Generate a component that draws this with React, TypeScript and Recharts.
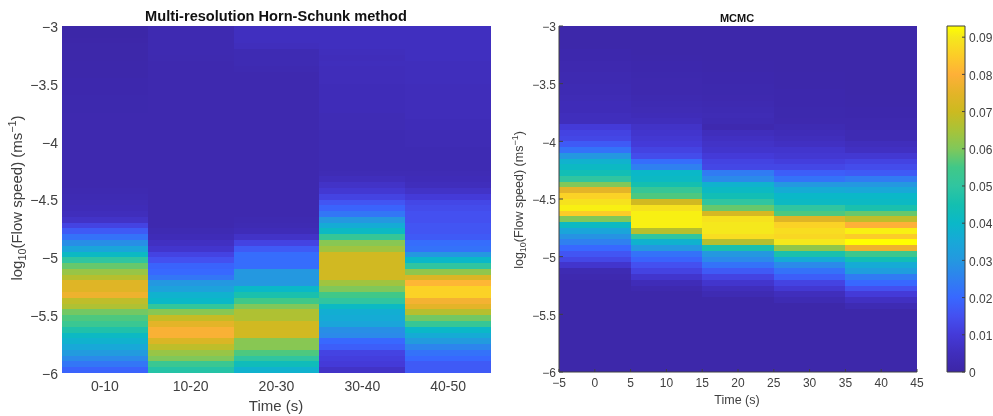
import React from 'react';
import { BarChart, Bar, Cell, XAxis, YAxis } from 'recharts';

// log10 speed bins: 60 bins of 0.05 from -6 up to -3, values listed bottom-up
const LOG_FLOOR = -6;
const BIN_SIZE = 0.05;
const logTicks = [0, 0.5, 1, 1.5, 2, 2.5, 3];

const hsLabels = ['0-10', '10-20', '20-30', '30-40', '40-50'];
const hs0 = [.019,.023,.027,.031,.035,.038,.041,.047,.053,.056,.059,.066,.068,.077,.074,.074,.067,.063,.058,.050,.041,.034,.028,.022,.017,.012,.007,.005,.004,.0035,.003,.0025,.002,.002,.002,.002,.002,.002,.002,.002,.002,.002,.002,.002,.002,.0018,.0018,.0018,.0015,.0015,.0015,.0012,.0012,.0012,.001,.001,.001,.0007,.0005,.0005];
const hs1 = [.048,.053,.060,.063,.068,.073,.079,.079,.075,.069,.061,.051,.040,.038,.033,.030,.023,.020,.019,.015,.012,.008,.006,.004,.003,.002,.002,.002,.002,.002,.002,.002,.002,.002,.002,.002,.002,.002,.002,.002,.002,.002,.002,.002,.002,.002,.002,.002,.002,.002,.002,.002,.002,.002,.0022,.0025,.0025,.0025,.0025,.0025];
const hs2 = [.038,.043,.050,.056,.061,.061,.071,.071,.071,.066,.066,.060,.055,.046,.040,.030,.030,.030,.021,.021,.021,.017,.012,.007,.004,.003,.0025,.002,.002,.002,.002,.002,.002,.002,.002,.002,.002,.002,.002,.002,.002,.002,.002,.002,.002,.002,.002,.002,.002,.002,.002,.002,.0025,.003,.003,.003,.005,.0055,.0055,.0055];
const hs3 = [.007,.010,.011,.012,.018,.020,.027,.028,.034,.036,.037,.041,.050,.055,.060,.064,.071,.071,.071,.071,.071,.064,.061,.052,.041,.036,.030,.023,.019,.016,.012,.009,.007,.005,.0035,.003,.003,.003,.003,.003,.003,.003,.0035,.0035,.0035,.004,.004,.004,.004,.004,.0045,.0045,.0045,.005,.0045,.005,.0055,.0055,.0055,.0055];
const hs4 = [.017,.017,.020,.022,.026,.031,.036,.040,.052,.059,.067,.075,.078,.086,.086,.081,.073,.062,.050,.040,.030,.022,.021,.017,.016,.016,.015,.015,.014,.013,.010,.007,.005,.004,.0035,.003,.003,.003,.003,.0035,.0035,.0035,.004,.004,.0045,.0045,.0045,.0045,.0045,.0045,.005,.005,.005,.005,.0055,.0055,.0055,.0055,.0055,.0055];
const hsColumns = [hs0, hs1, hs2, hs3, hs4];

const mcmcTimes = [0, 10, 20, 30, 40];
const mcmc0 = [.001,.001,.001,.001,.001,.001,.001,.001,.001,.001,.001,.001,.001,.001,.001,.001,.002,.003,.008,.013,.016,.020,.025,.029,.034,.041,.060,.085,.091,.089,.086,.075,.060,.050,.044,.041,.038,.030,.022,.017,.013,.012,.010,.005,.005,.004,.004,.0035,.003,.003,.0025,.0025,.002,.002,.0015,.0015,.001,.001,.001,.001];
const mcmc1 = [.001,.001,.001,.001,.001,.001,.001,.001,.001,.001,.001,.001,.001,.001,.002,.004,.008,.012,.015,.019,.022,.030,.038,.050,.067,.091,.091,.091,.089,.071,.056,.052,.045,.041,.040,.025,.021,.014,.012,.010,.009,.008,.007,.005,.004,.0035,.003,.0025,.002,.002,.002,.0018,.0015,.0015,.0012,.001,.001,.001,.001,.001];
const mcmc2 = [.001,.001,.001,.001,.001,.001,.001,.001,.001,.001,.001,.001,.001,.003,.005,.008,.012,.017,.022,.027,.030,.046,.067,.088,.090,.090,.089,.072,.058,.050,.044,.041,.038,.027,.024,.013,.012,.010,.008,.007,.006,.005,.002,.003,.0035,.003,.0025,.002,.0018,.0018,.0015,.0015,.0012,.0012,.001,.001,.001,.001,.001,.001];
const mcmc3 = [.001,.001,.001,.001,.001,.001,.001,.001,.001,.001,.001,.001,.003,.005,.009,.012,.018,.022,.027,.036,.046,.062,.090,.087,.088,.086,.074,.056,.050,.041,.040,.036,.030,.022,.018,.013,.011,.009,.008,.006,.005,.004,.003,.002,.0018,.0018,.0015,.0015,.0015,.0012,.0012,.0012,.001,.001,.001,.001,.001,.001,.001,.001];
const mcmc4 = [.001,.001,.001,.001,.001,.001,.001,.001,.001,.001,.001,.003,.006,.010,.015,.020,.024,.032,.036,.044,.054,.077,.093,.085,.091,.080,.068,.058,.046,.041,.040,.035,.030,.024,.017,.014,.012,.009,.006,.005,.003,.003,.002,.002,.0015,.0015,.0012,.0012,.001,.001,.001,.001,.001,.001,.001,.001,.001,.001,.001,.001];
const mcmcColumns = [mcmc0, mcmc1, mcmc2, mcmc3, mcmc4];
const mcmcTicks = [-5, 0, 5, 10, 15, 20, 25, 30, 35, 40, 45];

// colour bar
const colorValues = [0, .005, .01, .015, .02, .025, .03, .035, .04, .045, .05, .055, .06, .065, .07, .075, .08, .085, .09, .093];
const colorHex = ['#3c26a6', '#402ebc', '#443ad8', '#4450f0', '#3868ff', '#2f80f0', '#2498e0', '#18a8d8', '#0ab8c8', '#14bfb0', '#30c5a0', '#40c888', '#80c85a', '#a8c338', '#ccba20', '#e4b428', '#feb038', '#fccc28', '#f5e81c', '#ffff00'];
const colorbarTicks = [0, .01, .02, .03, .04, .05, .06, .07, .08, .09];
const COLOR_MAX = 0.093;

const TEXT = '#404040';
const FONT = '"Liberation Sans", Arial, sans-serif';

const toRgb = (hex: string) => [1, 3, 5].map((p) => parseInt(hex.slice(p, p + 2), 16));

function heat(v: number) {
  let i = 0;
  while (i < colorValues.length - 2 && v > colorValues[i + 1]) i++;
  const t = Math.min(1, (v - colorValues[i]) / (colorValues[i + 1] - colorValues[i]));
  const a = toRgb(colorHex[i]);
  const b = toRgb(colorHex[i + 1]);
  return `rgb(${a.map((c, k) => Math.round(c + (b[k] - c) * t)).join(',')})`;
}

const binKeys = hs0.map((_, i) => `b${i}`);
const binRow = Object.fromEntries(binKeys.map((k) => [k, BIN_SIZE]));
const hsData = hsLabels.map((label) => ({ label, ...binRow }));
const mcmcData = mcmcTimes.map((time) => ({ time, ...binRow }));

const minus = (v: number) => String(v).replace('-', '\u2212');
const logLabel = (v: number) => minus(v + LOG_FLOOR);

function heatBars(columns: number[][], barSize: number) {
  return binKeys.map((key, b) => (
    <Bar key={key} dataKey={key} stackId="heat" barSize={barSize} isAnimationActive={false}>
      {columns.map((col, c) => (
        <Cell key={c} fill={heat(col[b])} shapeRendering="crispEdges" />
      ))}
    </Bar>
  ));
}

function SpeedTitle({ x, y, size }: { x: number; y: number; size: number }) {
  const small = size * 0.72;
  return (
    <text transform={`rotate(-90 ${x} ${y})`} x={x} y={y} textAnchor="middle" fontSize={size} fill={TEXT} fontFamily={FONT}>
      log<tspan fontSize={small} dy={size * 0.25}>10</tspan>
      <tspan dy={-size * 0.25}>(Flow speed) (ms</tspan>
      <tspan fontSize={small} dy={-size * 0.38}>{'\u22121'}</tspan>
      <tspan dy={size * 0.38}>)</tspan>
    </text>
  );
}

function HornSchunk() {
  return (
    <BarChart width={500} height={416} data={hsData} barCategoryGap={0} margin={{ top: 26, right: 9, bottom: 0, left: 0 }}>
      {heatBars(hsColumns, 85.79)}
      <XAxis dataKey="label" height={43} axisLine={false} tickLine={false} tickMargin={2} tick={{ fontSize: 14, fill: TEXT, fontFamily: FONT }} />
      <YAxis width={62} type="number" domain={[0, 3]} ticks={logTicks} interval={0} tickFormatter={logLabel} axisLine={false} tickLine={false} tickSize={0} tickMargin={4} tick={{ fontSize: 14, fill: TEXT, fontFamily: FONT, dy: 1 }} />
      <text x={276} y={21} textAnchor="middle" fontSize={14.6} fontWeight="bold" fill="#111" fontFamily={FONT}>Multi-resolution Horn-Schunk method</text>
      <text x={276} y={411} textAnchor="middle" fontSize={15} fill={TEXT} fontFamily={FONT}>Time (s)</text>
      <SpeedTitle x={22} y={198} size={15} />
    </BarChart>
  );
}

function Mcmc() {
  const axis = { stroke: TEXT, strokeWidth: 1 };
  const ticks = { fontSize: 12, fill: TEXT, fontFamily: FONT };
  return (
    <BarChart width={430} height={416} data={mcmcData} barCategoryGap={0} margin={{ top: 26, right: 13, bottom: 0, left: 0 }}>
      {heatBars(mcmcColumns, 71.59)}
      <XAxis dataKey="time" type="number" domain={[-5, 45]} ticks={mcmcTicks} interval={0} tickFormatter={minus} height={44} axisLine={axis} tickLine={axis} tickSize={-3} tickMargin={9} tick={ticks} />
      <XAxis xAxisId="top" orientation="top" type="number" domain={[-5, 45]} ticks={mcmcTicks} interval={0} height={0} axisLine={axis} tickLine={axis} tickSize={-3} tick={false} />
      <YAxis width={59} type="number" domain={[0, 3]} ticks={logTicks} interval={0} tickFormatter={logLabel} axisLine={axis} tickLine={axis} tickSize={-4} tickMargin={7} tick={{ ...ticks, dy: 1 }} />
      <YAxis yAxisId="right" orientation="right" width={0} type="number" domain={[0, 3]} ticks={logTicks} interval={0} axisLine={axis} tickLine={axis} tickSize={-4} tick={false} />
      <text x={237} y={22} textAnchor="middle" fontSize={11} fontWeight="bold" fill="#111" fontFamily={FONT}>MCMC</text>
      <text x={237} y={404} textAnchor="middle" fontSize={12.5} fill={TEXT} fontFamily={FONT}>Time (s)</text>
      <SpeedTitle x={23} y={200} size={12.5} />
    </BarChart>
  );
}

function ColorBar() {
  return (
    <BarChart width={63} height={416} data={[{ name: 'scale', top: COLOR_MAX }]} barCategoryGap={0} margin={{ top: 26, right: 0, bottom: 44, left: 17 }}>
      <defs>
        <linearGradient id="parulaScale" x1="0" y1="1" x2="0" y2="0">
          {colorValues.map((v, i) => (
            <stop key={v} offset={v / COLOR_MAX} stopColor={colorHex[i]} />
          ))}
        </linearGradient>
      </defs>
      <Bar dataKey="top" fill="url(#parulaScale)" stroke={TEXT} strokeWidth={1} isAnimationActive={false} />
      <XAxis dataKey="name" hide />
      <YAxis orientation="right" width={28} type="number" domain={[0, COLOR_MAX]} ticks={colorbarTicks} interval={0} axisLine={false} tickLine={{ stroke: TEXT }} tickSize={-3} tickMargin={7} tick={{ fontSize: 12, fill: TEXT, fontFamily: FONT, dy: 1 }} />
    </BarChart>
  );
}

export default function App() {
  return (
    <div style={{ position: 'absolute', left: 0, top: 0, width: 993, height: 416, background: '#fff', display: 'flex', filter: 'blur(0.4px)' }}>
      <HornSchunk />
      <Mcmc />
      <ColorBar />
    </div>
  );
}
